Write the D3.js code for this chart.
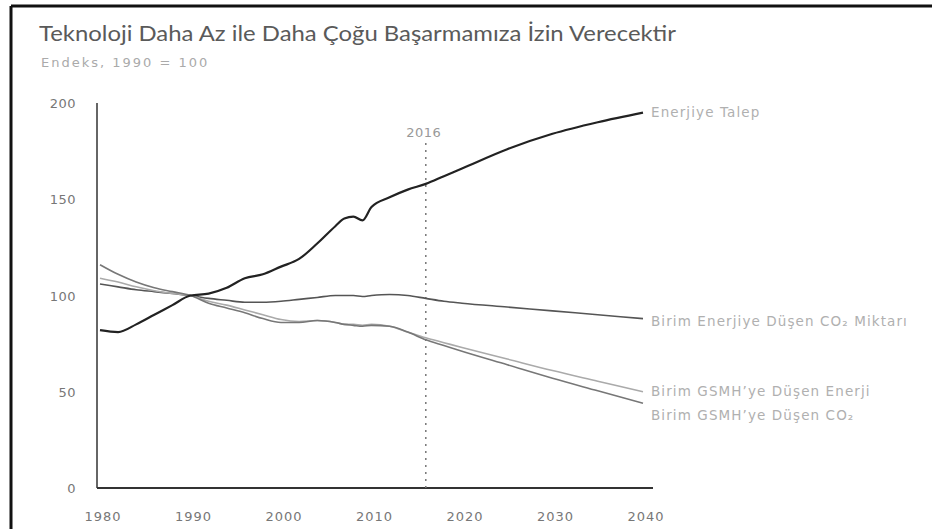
<!DOCTYPE html>
<html>
<head>
<meta charset="utf-8">
<script src="https://cdn.jsdelivr.net/npm/d3@7"></script>
<style>
  body { margin: 0; background: #fff; }
  svg { display: block; font-family: "DejaVu Sans", sans-serif; }
</style>
</head>
<body>
<div id="chart"></div>
<script>
// years shared by all series
const years = [1980, 1982, 1984, 1986, 1988, 1990, 1992, 1994, 1996, 1998, 2000, 2002, 2004, 2006,
  2007, 2008, 2009, 2010, 2012, 2014, 2016, 2018, 2020, 2025, 2030, 2035, 2040];

const energyDemand = [82, 81, 85, 90, 95, 100, 101, 104, 109, 111, 115, 119, 127, 136,
  140, 141, 139, 146, 151, 155, 158, 162, 166, 176, 184, 190, 195];
const co2PerEnergy = [106, 104.5, 103, 102, 101, 100, 98.5, 97.5, 96.5, 96.5, 97, 98, 99, 100,
  100, 100, 99.5, 100, 100.5, 100, 98.5, 97, 96, 94, 92, 90, 88];
const energyPerGdp = [109, 107, 104.5, 102.5, 101, 100, 97, 95, 92.5, 90, 87.5, 86.5, 87, 86,
  85, 85, 84.5, 85, 84, 81, 78, 75.5, 73, 67, 61, 55.5, 50];
const co2PerGdp = [116, 111, 107, 104, 102, 100, 96, 93.5, 91, 88, 86, 86, 87, 86,
  85, 84.5, 84, 84.5, 84, 81, 77, 74, 71, 64, 57, 50.5, 44];

const seriesNames = ["Enerjiye Talep", "Birim Enerjiye Düşen CO₂ Miktarı",
  "Birim GSMH’ye Düşen Enerji", "Birim GSMH’ye Düşen CO₂"];
const xTicks = [1980, 1990, 2000, 2010, 2020, 2030, 2040];
const yTicks = [0, 50, 100, 150, 200];
const markerYear = 2016;

const W = 932, H = 529;
const margin = { top: 103, left: 100, right: 290, bottom: 42 };

const svg = d3.select("#chart").append("svg")
  .attr("width", W).attr("height", H);

// scanned frame: top and left edges
svg.append("line").attr("x1", 11).attr("x2", W).attr("y1", 6).attr("y2", 6)
  .attr("stroke", "#111").attr("stroke-width", 3);
svg.append("line").attr("x1", 11).attr("x2", 11).attr("y1", 6).attr("y2", H)
  .attr("stroke", "#111").attr("stroke-width", 3);

svg.append("text").attr("x", 39).attr("y", 41)
  .attr("fill", "#5a5a5a").style("font-size", "21px").style("font-family", "Lato, sans-serif")
  .attr("textLength", 637).attr("lengthAdjust", "spacingAndGlyphs")
  .text("Teknoloji Daha Az ile Daha Çoğu Başarmamıza İzin Verecektir");
svg.append("text").attr("x", 41).attr("y", 67)
  .attr("fill", "#aaa").style("font-size", "13px")
  .attr("letter-spacing", "2")
  .text("Endeks, 1990 = 100");

const x = d3.scaleLinear().domain([1980, 2040]).range([margin.left, 643]);
const y = d3.scaleLinear().domain([0, 200]).range([488, margin.top]);

// axes
const g = svg.append("g");
g.append("line").attr("x1", 97).attr("x2", 97).attr("y1", y(200)).attr("y2", y(0))
  .attr("stroke", "#333").attr("stroke-width", 1.5);
g.append("line").attr("x1", 97).attr("x2", 653).attr("y1", y(0)).attr("y2", y(0))
  .attr("stroke", "#333").attr("stroke-width", 2);

g.selectAll(".ytick").data(yTicks).join("text")
  .attr("class", "ytick")
  .attr("x", 76).attr("y", d => y(d) + 5)
  .attr("text-anchor", "end")
  .attr("fill", "#777").style("font-size", "13px")
  .attr("letter-spacing", "0.5")
  .text(d => d);

g.selectAll(".xtick").data(xTicks).join("text")
  .attr("class", "xtick")
  .attr("x", d => x(d) + 3).attr("y", 521)
  .attr("text-anchor", "middle")
  .attr("fill", "#777").style("font-size", "13px")
  .attr("letter-spacing", "1")
  .text(d => d);

// 2016 marker
g.append("line")
  .attr("x1", x(markerYear)).attr("x2", x(markerYear))
  .attr("y1", 143).attr("y2", y(0))
  .attr("stroke", "#777").attr("stroke-width", 1.5)
  .attr("stroke-dasharray", "2,5");
g.append("text").attr("x", x(markerYear) - 2).attr("y", 137)
  .attr("text-anchor", "middle").attr("fill", "#999").style("font-size", "13px")
  .attr("letter-spacing", "0.5")
  .text(markerYear);

const line = d3.line()
  .x((d, i) => x(years[i]))
  .y(d => y(d))
  .curve(d3.curveMonotoneX);

const series = [
  { name: seriesNames[1], values: co2PerEnergy, color: "#555", width: 1.6, labelY: 326 },
  { name: seriesNames[2], values: energyPerGdp, color: "#aaa", width: 1.6, labelY: 396 },
  { name: seriesNames[3], values: co2PerGdp, color: "#777", width: 1.6, labelY: 420 },
  { name: seriesNames[0], values: energyDemand, color: "#222", width: 2.2, labelY: 117 }
];

svg.selectAll(".series").data(series).join("path")
  .attr("class", "series")
  .attr("fill", "none")
  .attr("stroke", d => d.color)
  .attr("stroke-width", d => d.width)
  .attr("d", d => line(d.values));

svg.selectAll(".label").data(series).join("text")
  .attr("class", "label")
  .attr("x", 651).attr("y", d => d.labelY)
  .attr("fill", "#b0b0b0").style("font-size", "13.5px")
  .attr("letter-spacing", "1.1")
  .text(d => d.name);
</script>
</body>
</html>
